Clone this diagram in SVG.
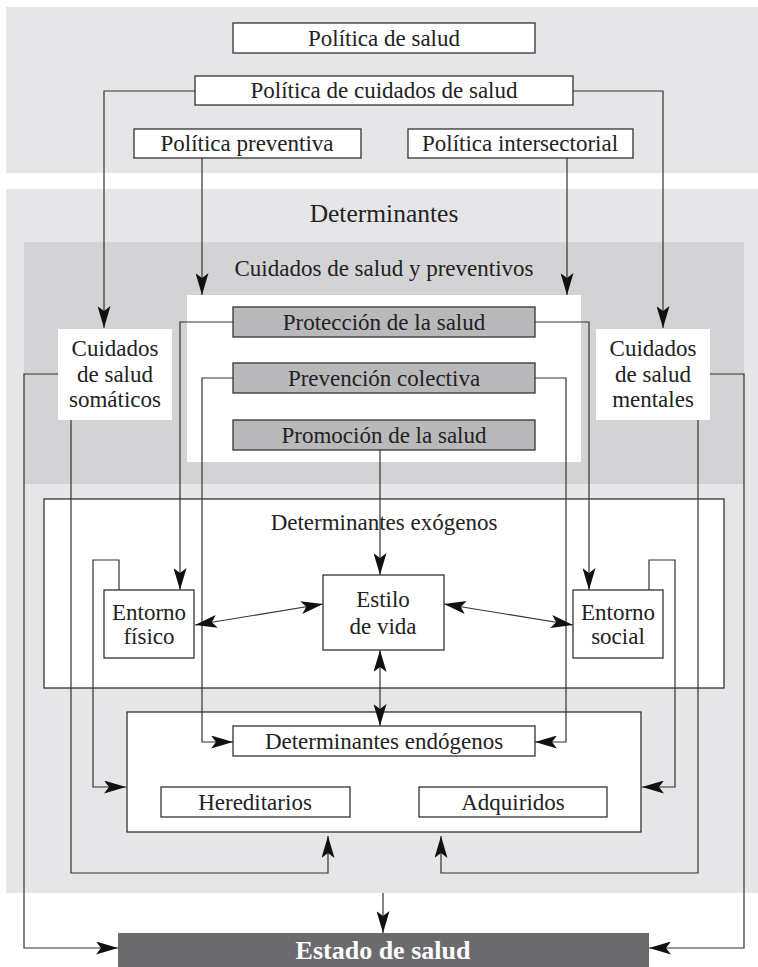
<svg xmlns="http://www.w3.org/2000/svg" width="758" height="967" viewBox="0 0 758 967">
<style>
text{font-family:"Liberation Serif","DejaVu Serif",serif;font-size:23px;fill:#222;text-anchor:middle}
.box{fill:#fff;stroke:#333;stroke-width:1.3}
.gbox{fill:#b9b9bc;stroke:#333;stroke-width:1.3}
.wbox{fill:#fff;stroke:none}
.ln{fill:none;stroke:#333;stroke-width:1.2}
.arr{marker-end:url(#ah)}
.arr2{marker-start:url(#ah);marker-end:url(#ah)}
</style>
<defs>
<marker id="ah" viewBox="0 0 22 13" refX="22" refY="6.5" markerWidth="22" markerHeight="13" orient="auto-start-reverse" markerUnits="userSpaceOnUse"><path d="M0,0 L22,6.5 L0,13 L5,6.5 z" fill="#111"/></marker>
</defs>
<rect width="758" height="967" fill="#fff"/>
<g id="panel-politicas"><rect x="6" y="7" width="752" height="166" fill="#e6e6e8"/></g>
<g id="panel-determinantes"><rect x="6" y="189" width="752" height="704" fill="#e6e6e8"/>
<text x="384" y="222" style="font-size:25.5px">Determinantes</text></g>
<g id="panel-cuidados"><rect x="24" y="242" width="720" height="242" fill="#d3d3d5"/>
<rect x="187" y="295" width="394" height="167" class="wbox"/>
<text x="384" y="276">Cuidados de salud y preventivos</text></g>
<g id="exogenos"><rect x="44" y="499" width="680" height="189" class="box"/>
<text x="384" y="530">Determinantes exógenos</text></g>
<g id="endogenos-outer"><rect x="127" y="712" width="514" height="120" class="box"/></g>

<g id="connectors">
<path class="ln arr" d="M195,91 H104 V328"/>
<path class="ln arr" d="M573,91 H663 V328"/>
<path class="ln arr" d="M202,158 V295"/>
<path class="ln arr" d="M567,158 V295"/>
<path class="ln arr" d="M233,322 H180 V590"/>
<path class="ln arr" d="M535,322 H589 V590"/>
<path class="ln arr" d="M233,378 H202 V742 H233"/>
<path class="ln arr" d="M535,378 H566 V742 H535"/>
<path class="ln arr" d="M380,450 V575"/>
<path class="ln arr2" d="M195,625 L323,604"/>
<path class="ln arr2" d="M444,604 L573,625"/>
<path class="ln arr2" d="M380,650 V726"/>
<path class="ln arr" d="M119,590 V560 H93 V787 H126"/>
<path class="ln arr" d="M649,590 V560 H675 V787 H642"/>
<path class="ln arr" d="M71,420 V873 H328 V836"/>
<path class="ln arr" d="M698,420 V873 H441 V836"/>
<path class="ln arr" d="M58,374 H24 V948 H118"/>
<path class="ln arr" d="M710,374 H744 V948 H649"/>
<path class="ln arr" d="M383,893 V933"/>
</g>

<g id="politica-salud"><rect x="233" y="23" width="302" height="30" class="box"/><text x="384" y="46">Política de salud</text></g>
<g id="politica-cuidados"><rect x="195" y="76" width="378" height="29" class="box"/><text x="384" y="98">Política de cuidados de salud</text></g>
<g id="politica-preventiva"><rect x="134" y="129" width="227" height="29" class="box"/><text x="247" y="151">Política preventiva</text></g>
<g id="politica-intersectorial"><rect x="408" y="129" width="225" height="29" class="box"/><text x="520" y="151">Política intersectorial</text></g>
<g id="cuidados-somaticos"><rect x="58" y="329" width="114" height="91" class="wbox"/>
<text x="115" y="356">Cuidados</text><text x="115" y="382">de salud</text><text x="115" y="407">somáticos</text></g>
<g id="cuidados-mentales"><rect x="596" y="329" width="114" height="91" class="wbox"/>
<text x="653" y="356">Cuidados</text><text x="653" y="382">de salud</text><text x="653" y="407">mentales</text></g>
<g id="proteccion"><rect x="233" y="307" width="302" height="30" class="gbox"/><text x="384" y="330">Protección de la salud</text></g>
<g id="prevencion"><rect x="233" y="363" width="302" height="30" class="gbox"/><text x="384" y="386">Prevención colectiva</text></g>
<g id="promocion"><rect x="233" y="420" width="302" height="30" class="gbox"/><text x="384" y="443">Promoción de la salud</text></g>
<g id="entorno-fisico"><rect x="104" y="590" width="90" height="68" class="box"/><text x="149" y="620">Entorno</text><text x="149" y="644">físico</text></g>
<g id="estilo-vida"><rect x="323" y="575" width="121" height="75" class="box"/><text x="383" y="607">Estilo</text><text x="383" y="634">de vida</text></g>
<g id="entorno-social"><rect x="573" y="590" width="90" height="68" class="box"/><text x="618" y="620">Entorno</text><text x="618" y="644">social</text></g>
<g id="det-endogenos"><rect x="233" y="726" width="302" height="30" class="box"/><text x="384" y="749">Determinantes endógenos</text></g>
<g id="hereditarios"><rect x="161" y="787" width="189" height="30" class="box"/><text x="255" y="810">Hereditarios</text></g>
<g id="adquiridos"><rect x="419" y="787" width="188" height="30" class="box"/><text x="513" y="810">Adquiridos</text></g>
<g id="estado-salud"><rect x="118" y="933" width="531" height="34" fill="#6b6b6e"/><text x="383" y="959" style="font-size:26px;font-weight:bold;fill:#fff">Estado de salud</text></g>
</svg>
